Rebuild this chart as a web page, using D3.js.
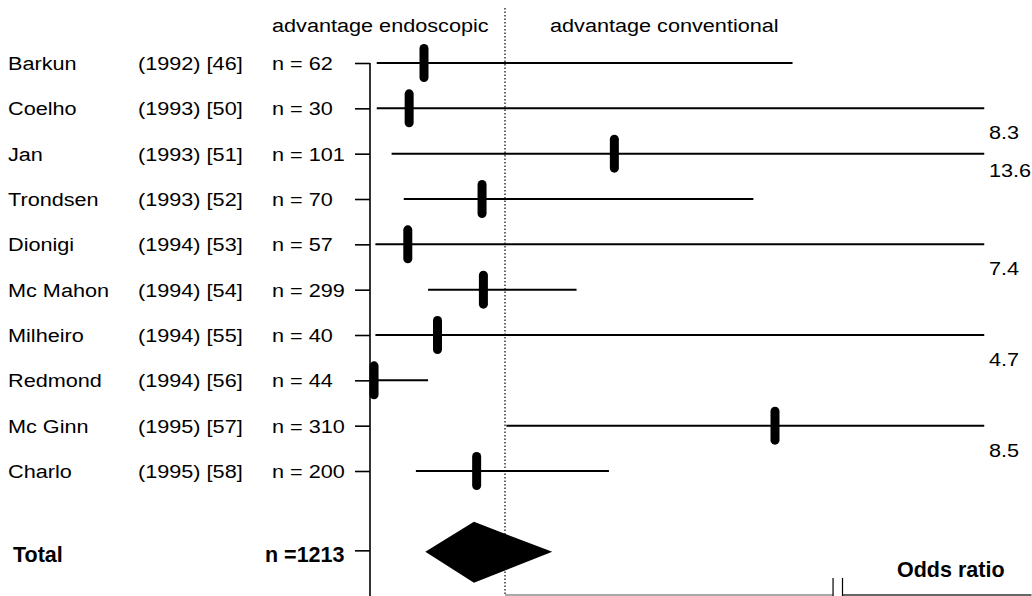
<!DOCTYPE html>
<html>
<head>
<meta charset="utf-8">
<script src="https://cdn.jsdelivr.net/npm/d3@7"></script>
<style>
  body { margin: 0; background: #fff; }
  svg { display: block; font-family: "Liberation Sans", Arial, Helvetica, sans-serif; }
</style>
</head>
<body>
<svg id="chart" width="1032" height="596"></svg>
<script>
// studies in the meta-analysis, top to bottom
var studies = ["Barkun", "Coelho", "Jan", "Trondsen", "Dionigi", "Mc Mahon", "Milheiro", "Redmond", "Mc Ginn", "Charlo"];
var refs = ["(1992) [46]", "(1993) [50]", "(1993) [51]", "(1993) [52]", "(1994) [53]", "(1994) [54]", "(1994) [55]", "(1994) [56]", "(1995) [57]", "(1995) [58]"];
var sizes = [62, 30, 101, 70, 57, 299, 40, 44, 310, 200];
// odds ratio and 95% CI
var oddsRatio = [0.40, 0.29, 1.81, 0.83, 0.28, 0.84, 0.50, 0.03, 3.00, 0.79];
var ciLow = [0.05, 0.05, 0.16, 0.25, 0.04, 0.43, 0.04, 0.00, 1.01, 0.34];
var ciHigh = [3.13, 8.3, 13.6, 2.84, 7.4, 1.53, 4.7, 0.43, 8.5, 1.77];
// pooled estimate: low, point, high
var pooled = [0.41, 0.77, 1.35];
var totalN = 1213;

var svg = d3.select("#chart");
var stretch = 1.14;   // the scanned text is a little wider than Arial

var x = d3.scaleLinear().domain([0, 4.9]).range([370, 1031.5]);
var xCap = 4.55;      // lines are cut here, the real upper limit is written next to them
var y = d3.scaleLinear().domain([0, 9]).range([63, 471]);
var totalRow = 10.75;

function label(g, txt, px, py, size, bold) {
    return g.append("text")
        .attr("transform", "translate(" + px + "," + py + ")" + (bold ? "" : " scale(" + stretch + ",1)"))
        .attr("font-size", size)
        .attr("font-weight", bold ? "bold" : "normal")
        .attr("fill", "#000")
        .text(txt);
}

// headers
label(svg, "advantage endoscopic", 272, 32, 19, false);
label(svg, "advantage conventional", 550, 32, 19, false);

// dotted line of no effect
svg.append("line")
    .attr("x1", x(1)).attr("x2", x(1))
    .attr("y1", 8).attr("y2", 596)
    .attr("stroke", "#000").attr("stroke-width", 1.2)
    .attr("stroke-dasharray", "1.5,2");

// left axis with row ticks
var rowTicks = d3.range(studies.length).concat([totalRow]);
var yAxis = svg.append("g")
    .attr("transform", "translate(" + x(0) + ",0)")
    .call(d3.axisLeft(y).tickValues(rowTicks).tickSize(15).tickFormat(""));
yAxis.select(".domain").remove();
yAxis.selectAll("line").attr("stroke", "#000").attr("stroke-width", 1.6);
svg.append("line")
    .attr("x1", x(0)).attr("x2", x(0))
    .attr("y1", y(0)).attr("y2", 596)
    .attr("stroke", "#000").attr("stroke-width", 1.6);

// bottom axis with a break
var brk = [3.43, 3.5];
svg.append("line")
    .attr("x1", x(1)).attr("x2", x(brk[0]))
    .attr("y1", 595).attr("y2", 595)
    .attr("stroke", "#555").attr("stroke-width", 1.2);
svg.append("line")
    .attr("x1", x(brk[1])).attr("x2", x(4.9))
    .attr("y1", 595).attr("y2", 595)
    .attr("stroke", "#333").attr("stroke-width", 1.4);
svg.selectAll("line.brk").data(brk).enter().append("line")
    .attr("class", "brk")
    .attr("x1", function (d) { return x(d); }).attr("x2", function (d) { return x(d); })
    .attr("y1", 578).attr("y2", 596)
    .attr("stroke", "#000").attr("stroke-width", 1.2);

// row labels
var rows = svg.append("g");
studies.forEach(function (s, i) {
    label(rows, s, 8, y(i) + 7, 19, false);
    label(rows, refs[i], 138, y(i) + 7, 19, false);
    label(rows, "n = " + sizes[i], 272, y(i) + 7, 19, false);
});
label(rows, "Total", 13, y(totalRow) + 12, 21.5, true);
label(rows, "n =" + totalN, 265, y(totalRow) + 12, 21.5, true);

// confidence intervals
svg.selectAll("line.ci").data(studies).enter().append("line")
    .attr("class", "ci")
    .attr("x1", function (d, i) { return x(ciLow[i]); })
    .attr("x2", function (d, i) { return x(Math.min(ciHigh[i], xCap)); })
    .attr("y1", function (d, i) { return y(i); })
    .attr("y2", function (d, i) { return y(i); })
    .attr("stroke", "#000").attr("stroke-width", 2);

// cut values
var cut = d3.range(studies.length).filter(function (i) { return ciHigh[i] > xCap; });
cut.forEach(function (i, k) {
    var dy = (i === 2) ? 16 : 24;
    label(svg, String(ciHigh[i]), 989, y(i) + dy + 7, 19, false);
});

// point estimates
svg.selectAll("rect.pt").data(studies).enter().append("rect")
    .attr("class", "pt")
    .attr("x", function (d, i) { return x(oddsRatio[i]) - 4.5; })
    .attr("y", function (d, i) { return y(i) - 19; })
    .attr("width", 9).attr("height", 38)
    .attr("rx", 4.5).attr("ry", 4.5)
    .attr("fill", "#000");

// pooled diamond
var ty = y(totalRow) + 1.5;
svg.append("path")
    .attr("d", "M" + x(pooled[0]) + "," + ty +
        "L" + x(pooled[1]) + "," + (ty - 30) +
        "L" + x(pooled[2]) + "," + ty +
        "L" + x(pooled[1]) + "," + (ty + 31) + "Z")
    .attr("fill", "#000");

label(svg, "Odds ratio", 897, 577, 21.5, true);
</script>
</body>
</html>
